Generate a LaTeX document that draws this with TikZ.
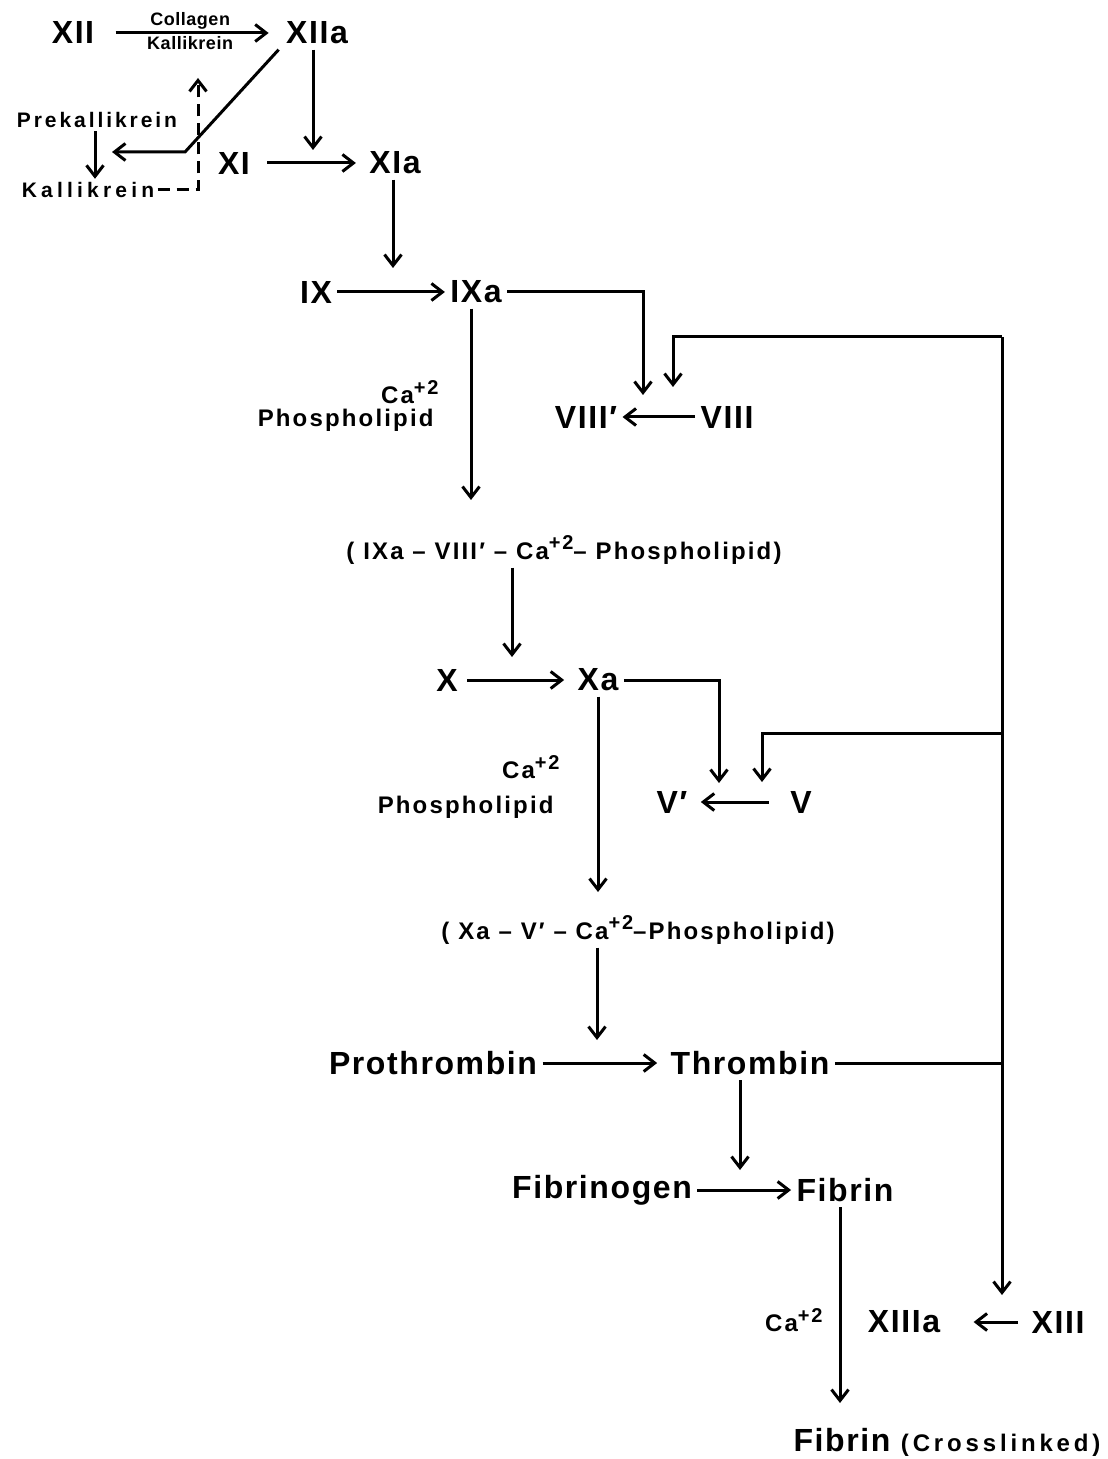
\documentclass[tikz,border=0pt]{standalone}
\usepackage{fontspec}
\setmainfont{Liberation Sans}
\usetikzlibrary{arrows.meta}
\newcommand{\caion}{Ca\raisebox{0.75ex}{\fontsize{10}{10}\selectfont +2}}

\begin{document}
\begin{tikzpicture}[x=0.5pt,y=-0.5pt,line width=1.5pt,
  >={Straight Barb[length=5.5pt,width=8.5pt]},
  big/.style={font=\fontsize{16}{18}\selectfont\bfseries\addfontfeature{LetterSpace=5},inner sep=2pt},
  lbl/.style={font=\fontsize{12}{14}\selectfont\bfseries\addfontfeature{LetterSpace=9},inner sep=1pt},
  kal/.style={font=\fontsize{10.5}{12}\selectfont\bfseries\addfontfeature{LetterSpace=14},inner sep=1pt},
  tiny/.style={font=\fontsize{9}{10}\selectfont\bfseries\addfontfeature{LetterSpace=3},inner sep=1pt}]
  \useasboundingbox (0,0) rectangle (1107,1459);
  \node[big] (xii) at (73,33) {XII};
  \node[big] (xiia) at (317,33) {XIIa};
  \node[kal] (prek) at (97,120) {Prekallikrein};
  \node[kal,font=\fontsize{10.5}{12}\selectfont\bfseries\addfontfeature{LetterSpace=20}] (kalli) at (88,190) {Kallikrein};
  \node[big] (xi) at (234,163) {XI};
  \node[big] (xia) at (395,163) {XIa};
  \node[big] (ix) at (316,292) {IX};
  \node[big] (ixa) at (476,292) {IXa};
  \node[lbl,anchor=east] (ca1) at (442,392) {\caion};
  \node[lbl,anchor=east] (pl1) at (437,420) {Phospholipid};
  \node[big] (viiip) at (586,417) {VIII′};
  \node[big] (viii) at (727,417) {VIII};
  \node[lbl] (cx1) at (564,550) {( IXa – VIII′ – \caion – Phospholipid)};
  \node[big] (x) at (447,680) {X};
  \node[big] (xa) at (598,680) {Xa};
  \node[lbl,anchor=east] (ca2) at (563,767) {\caion};
  \node[lbl,anchor=east] (pl2) at (557,807) {Phospholipid};
  \node[big] (vp) at (672,802) {V′};
  \node[big] (v) at (801,802) {V};
  \node[lbl] (cx2) at (638,930) {( Xa – V′ – \caion –Phospholipid)};
  \node[big] (pro) at (433,1063) {Prothrombin};
  \node[big] (thr) at (750,1063) {Thrombin};
  \node[big] (fbg) at (602,1190) {Fibrinogen};
  \node[big] (fib) at (845,1190) {Fibrin};
  \node[lbl,anchor=east] (ca3) at (826,1320) {\caion};
  \node[big] (xiiia) at (904,1322) {XIIIa};
  \node[big] (xiii) at (1058,1322) {XIII};
  \node[big] (fibx) at (947,1442) {Fibrin {\fontsize{12}{14}\selectfont\addfontfeature{LetterSpace=16}(Crosslinked)}};

  \coordinate (bend) at (185,152);
  \coordinate (pk) at (112,152);
  \coordinate (k) at (95,0);
  \coordinate (dtop) at (198,78);
  \coordinate (a1) at (313,150);
  \coordinate (a2) at (393,268);
  \coordinate (a3) at (643,395);
  \coordinate (a4) at (471,500);
  \coordinate (a5) at (673,387);
  \coordinate (a6) at (762,782);
  \coordinate (a8) at (512,657);
  \coordinate (a9) at (719,783);
  \coordinate (a10) at (598,892);
  \coordinate (a11) at (597,1040);
  \coordinate (a12) at (740,1170);
  \coordinate (a13) at (840,1403);
  \coordinate (rt) at (1002,337);
  \coordinate (rm) at (1002,733);
  \coordinate (a7) at (1002,1295);

  \draw[->,shorten <=8pt,shorten >=6pt] (xii) -- node[tiny,above]{Collagen} node[tiny,below]{Kallikrein} (xiia);
  \draw[->] ([xshift=-1pt]xiia.south west) -- (bend) -- (pk);
  \draw[->] (prek.south -| k) -- (kalli.north -| k);
  \draw[->,dash pattern=on 6pt off 3.5pt] (kalli.east) -| (dtop);
  \draw[->] (xiia.south -| a1) -- (a1);
  \draw[->,shorten <=6pt,shorten >=4pt] (xi) -- (xia);
  \draw[->] (xia.south -| a2) -- (a2);
  \draw[->] (ix) -- (ixa);
  \draw[->] (ixa.east) -| (a3);
  \draw[->] (ixa.south -| a4) -- (a4);
  \draw[->] (viii) -- (viiip);
  \draw[->] (cx1.south -| a8) -- (a8);
  \draw[->,shorten <=2pt,shorten >=4pt] (x) -- (xa);
  \draw[->] (xa.east) -| (a9);
  \draw[->] (xa.south) -- (a10);
  \draw[->,shorten <=8pt,shorten >=4pt] (v) -- (vp);
  \draw[->] (cx2.south -| a11) -- (a11);
  \draw[->,shorten >=4pt] (pro) -- (thr);
  \draw[->] (thr.south -| a12) -- (a12);
  \draw[->] (fbg) -- (fib);
  \draw[->] (fib.south -| a13) -- (a13);
  \draw[->,shorten <=4pt,shorten >=14pt] (xiii) -- (xiiia);
  \draw (thr.east) -- (thr.east -| rt) -- (rt);
  \draw[->] (rt) -| (a5);
  \draw[->] (rm) -| (a6);
  \draw[->] (thr.east -| rt) -- (a7);
\end{tikzpicture}
\end{document}
